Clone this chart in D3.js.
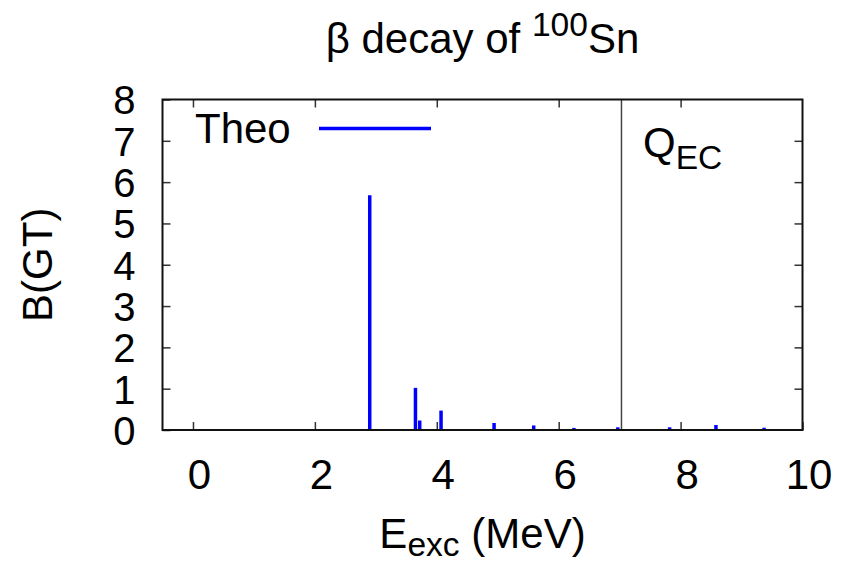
<!DOCTYPE html>
<html>
<head>
<meta charset="utf-8">
<script src="https://cdn.jsdelivr.net/npm/d3@7"></script>
<style>
  body { margin: 0; background: #fff; }
  svg { font-family: "Liberation Sans", Arial, Helvetica, sans-serif; }
</style>
</head>
<body>
<svg id="chart" width="850" height="565"></svg>
<script>
// excitation energies (MeV) and B(GT) strengths
const energies = [2.90, 3.65, 3.72, 4.07, 4.54, 4.94, 5.59, 6.25, 6.97, 7.82, 8.58, 9.37];
const bgt = [5.68, 1.02, 0.23, 0.47, 0.01, 0.17, 0.11, 0.05, 0.065, 0.065, 0.12, 0.055];
const xTicks = [0, 2, 4, 6, 8, 10];
const yTicks = [0, 1, 2, 3, 4, 5, 6, 7, 8];
const qEC = 7.03;

const width = 850;
const height = 565;
const margin = { top: 99.5, right: 47.5, bottom: 135, left: 162.5 };
const fontSize = 42;
const subSize = 33.6;

const svg = d3.select("#chart");

const x = d3.scaleLinear().domain([-0.5, 10]).range([margin.left, width - margin.right]);
const y = d3.scaleLinear().domain([0, 8]).range([height - margin.bottom, margin.top]);

const plotW = x.range()[1] - x.range()[0];
const plotH = y.range()[0] - y.range()[1];

/* impulses */
svg.append("g")
  .selectAll("line")
  .data(energies.map((e, i) => ({ e, b: bgt[i] })))
  .join("line")
  .attr("x1", (d) => x(d.e))
  .attr("x2", (d) => x(d.e))
  .attr("y1", y(0))
  .attr("y2", (d) => y(d.b))
  .attr("stroke", "#0000ff")
  .attr("stroke-width", 3.5);

/* Q_EC marker */
svg.append("line")
  .attr("x1", x(qEC)).attr("x2", x(qEC))
  .attr("y1", y(0)).attr("y2", y(8))
  .attr("stroke", "#444")
  .attr("stroke-width", 1.5);

/* axes, ticks pointing inward on all four sides */
function styleAxis(g, size) {
  g.select(".domain").remove();
  g.selectAll(".tick line").attr("stroke", "#333").attr("stroke-width", 1.5);
  g.selectAll(".tick text")
    .attr("fill", "#000")
    .style("font-size", (size || fontSize) + "px")
    .style("font-family", "'Liberation Sans', Arial, Helvetica, sans-serif");
}

svg.append("g")
  .attr("transform", `translate(0,${y(0)})`)
  .call(d3.axisBottom(x).tickValues(xTicks).tickSize(-8).tickPadding(0).tickFormat(d3.format("d")))
  .call(styleAxis)
  .call((g) => g.selectAll(".tick text").attr("dy", null).attr("y", 59).attr("dx", 6));

svg.append("g")
  .attr("transform", `translate(0,${y(8)})`)
  .call(d3.axisTop(x).tickValues(xTicks.filter((v) => v < 10)).tickSize(-8).tickFormat(""))
  .call(styleAxis);

svg.append("g")
  .attr("transform", `translate(${x(-0.5)},0)`)
  .call(d3.axisLeft(y).tickValues(yTicks).tickSize(-8).tickPadding(0).tickFormat(d3.format("d")))
  .call((g) => styleAxis(g, 40))
  .call((g) => g.selectAll(".tick text").attr("x", -27).attr("dy", "0.36em"));

svg.append("g")
  .attr("transform", `translate(${x(10)},0)`)
  .call(d3.axisRight(y).tickValues(yTicks.filter((v) => v > 0 && v < 8)).tickSize(-8).tickFormat(""))
  .call(styleAxis);

/* frame */
svg.append("rect")
  .attr("x", x(-0.5))
  .attr("y", y(8))
  .attr("width", plotW)
  .attr("height", plotH)
  .attr("fill", "none")
  .attr("stroke", "#111")
  .attr("stroke-width", 2);

/* legend */
svg.append("text")
  .attr("x", 195)
  .attr("y", 143)
  .style("font-size", fontSize + "px")
  .text("Theo");
svg.append("line")
  .attr("x1", 319).attr("x2", 431)
  .attr("y1", 128.5).attr("y2", 128.5)
  .attr("stroke", "#0000ff")
  .attr("stroke-width", 3.5);

/* Q_EC label */
const q = svg.append("text")
  .attr("x", 643)
  .attr("y", 157)
  .style("font-size", fontSize + "px");
q.append("tspan").text("Q");
q.append("tspan").attr("dy", 12).style("font-size", subSize + "px").text("EC");

/* title */
const title = svg.append("text")
  .attr("x", (x.range()[0] + x.range()[1]) / 2)
  .attr("y", 53)
  .attr("text-anchor", "middle")
  .style("font-size", fontSize + "px");
title.append("tspan").text("\u03b2 decay of ");
title.append("tspan").attr("dy", -17).style("font-size", subSize + "px").text("100");
title.append("tspan").attr("dy", 17).text("Sn");

/* x axis label */
const xl = svg.append("text")
  .attr("x", (x.range()[0] + x.range()[1]) / 2)
  .attr("y", 548)
  .attr("text-anchor", "middle")
  .style("font-size", fontSize + "px");
xl.append("tspan").text("E");
xl.append("tspan").attr("dy", 8).style("font-size", subSize + "px").text("exc");
xl.append("tspan").attr("dy", -8).text(" (MeV)");

/* y axis label */
svg.append("text")
  .attr("transform", `translate(52,${(y.range()[0] + y.range()[1]) / 2}) rotate(-90)`)
  .attr("text-anchor", "middle")
  .style("font-size", fontSize + "px")
  .text("B(GT)");
</script>
</body>
</html>
